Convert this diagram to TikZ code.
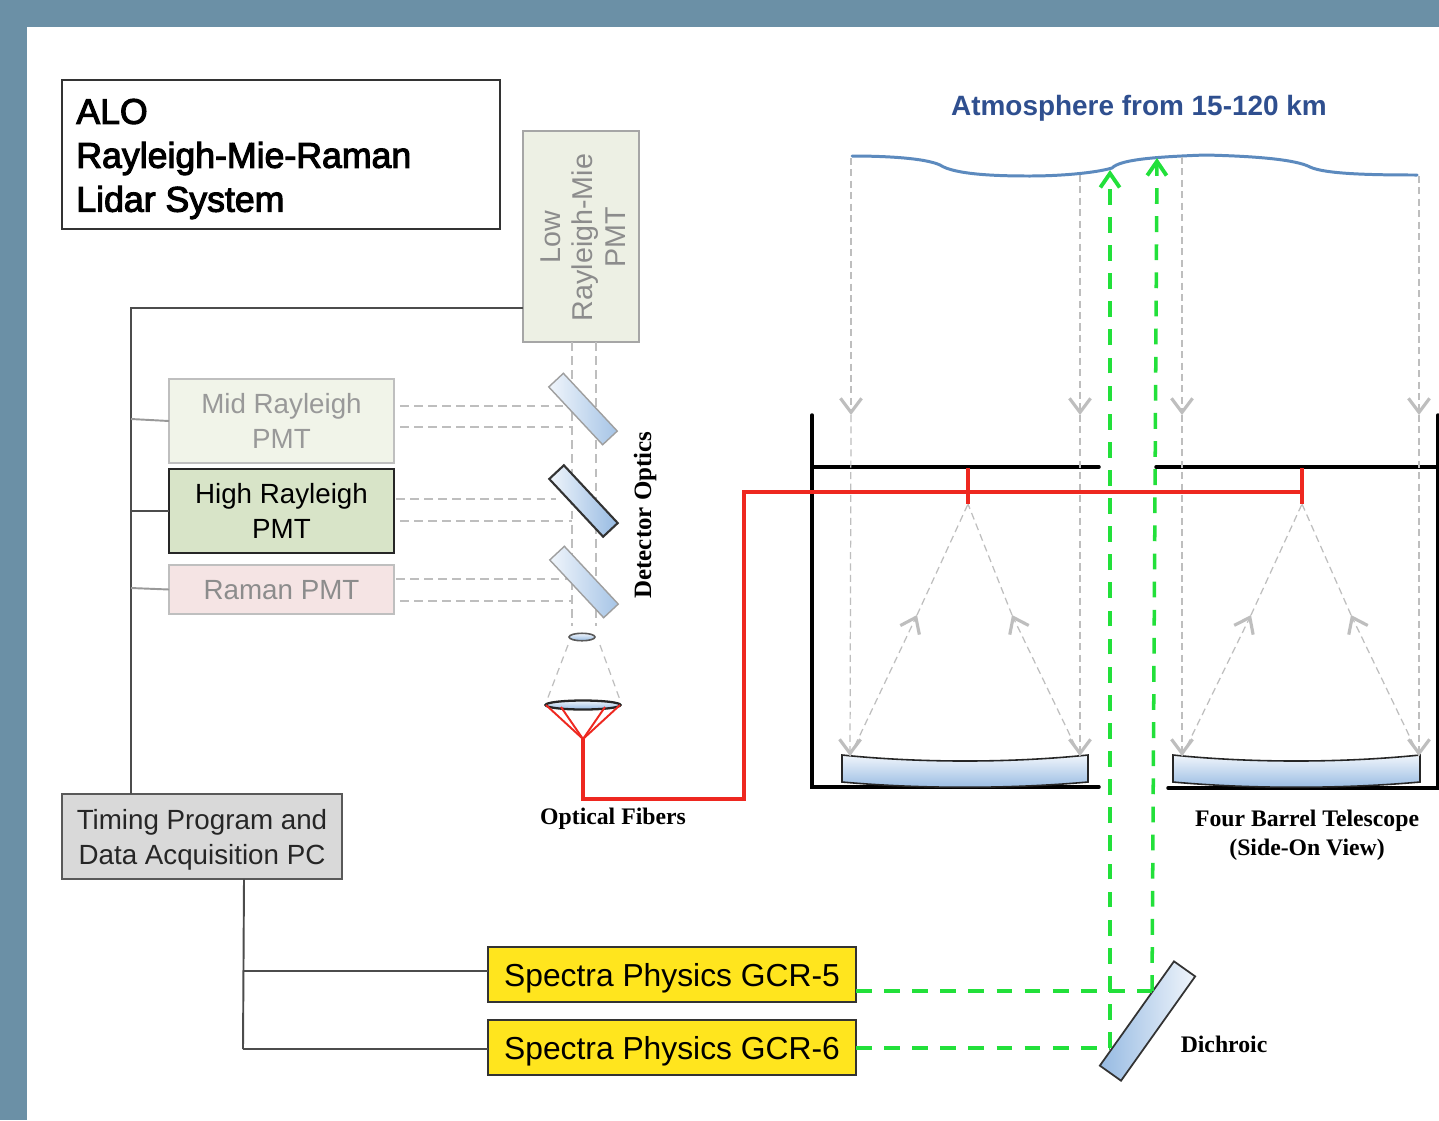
\documentclass[tikz,border=0pt]{standalone}
\usepackage{fontspec}
\setmainfont{Liberation Sans}
\newfontfamily\serifbold{Liberation Serif}
\newfontfamily\heavysans{Liberation Sans}[FakeBold=3]
\usetikzlibrary{shapes.geometric, arrows.meta, positioning, calc}
\definecolor{framebg}{RGB}{107,144,166}
\definecolor{lowbg}{RGB}{237,240,228}
\definecolor{midbg}{RGB}{241,244,233}
\definecolor{highbg}{RGB}{216,228,200}
\definecolor{ramanbg}{RGB}{245,228,228}
\definecolor{timebg}{RGB}{217,217,217}
\definecolor{laserbg}{RGB}{255,229,30}
\definecolor{beamgray}{RGB}{190,190,190}
\definecolor{lasergreen}{RGB}{34,224,58}
\definecolor{fiberred}{RGB}{238,40,32}
\definecolor{skyblue}{RGB}{92,138,190}
\definecolor{skytext}{RGB}{47,79,143}
\definecolor{glassblue}{RGB}{150,186,226}
\definecolor{glasslight}{RGB}{240,245,251}
\tikzset{
  pmtbox/.style={draw, rectangle, line width=0.8pt, inner sep=0pt, outer sep=0pt, align=center, font=\fontsize{15.8}{20}\selectfont},
  laserbox/.style={pmtbox, draw=black!80, fill=laserbg, minimum width=7.36cm, minimum height=1.1cm, text depth=-3pt, font=\fontsize{18.1}{22}\selectfont},
  caption/.style={font=\serifbold\bfseries\fontsize{13.5}{16.5}\selectfont, align=center},
  mirror/.style={draw=gray!75, line width=0.8pt, inner sep=0pt, minimum width=1.58cm, minimum height=0.4cm, left color=glasslight, right color=glassblue!85},
  wire/.style={draw=black!70, line width=1.1pt},
  sidebeam/.style={draw=beamgray, line width=0.8pt, dash pattern=on 5pt off 3pt},
  ray/.style={draw=beamgray, line width=0.7pt, dash pattern=on 4pt off 2.5pt},
  raytip/.style={ray, -{Straight Barb[length=8pt, width=12pt, line width=1.8pt]}},
  green/.style={draw=lasergreen, line width=2pt, dash pattern=on 9pt off 7pt},
  greentip/.style={green, -{Straight Barb[length=8pt, width=11pt, line width=2.2pt]}},
  barrel/.style={draw=black, line width=2pt, line cap=round},
  fiber/.style={draw=fiberred, line width=1.9pt}
}
\begin{document}
\begin{tikzpicture}[x=0.02cm, y=-0.02cm]
  \useasboundingbox (0,0) rectangle (1439,1120);
  % Frame
  \fill[framebg] (0,0) rectangle (1439,1120);
  \fill[white] (27,27) rectangle (1439,1120);

  % Boxes
  \node[draw=black!80, rectangle, line width=1pt, inner sep=0pt, minimum width=8.76cm, minimum height=2.98cm] (title) at (281,154.5) {};
  \node[anchor=west, align=left, inner sep=0pt, font=\heavysans\fontsize{20.3}{25}\selectfont] (titletext) at (76,159) {ALO\\Rayleigh-Mie-Raman\\Lidar System};
  \node[pmtbox, draw=black!35, fill=lowbg, text=black!45, minimum width=2.32cm, minimum height=4.22cm] (low) at (581,236.5) {};
  \node[rotate=90, align=center, text=black!45, font=\fontsize{16.3}{18.7}\selectfont] (lowtext) at (583,237.5) {Low\\Rayleigh-Mie\\PMT};
  \node[pmtbox, draw=black!25, fill=midbg, text=black!40, minimum width=4.5cm, minimum height=1.68cm, text depth=-5pt] (mid) at (281.5,421) {Mid Rayleigh\\PMT};
  \node[pmtbox, draw=black!85, fill=highbg, minimum width=4.5cm, minimum height=1.68cm, text depth=-5pt] (high) at (281.5,511) {High Rayleigh\\PMT};
  \node[pmtbox, draw=black!25, fill=ramanbg, text=black!45, minimum width=4.5cm, minimum height=0.98cm, text depth=-5pt] (raman) at (281.5,589.5) {Raman PMT};
  \node[pmtbox, draw=black!65, fill=timebg, text=black!85, minimum width=5.6cm, minimum height=1.7cm, text depth=-2.5pt] (timing) at (202,836.5) {Timing Program and\\Data Acquisition PC};
  \node[laserbox] (gcrfive) at (672,974.5) {Spectra Physics GCR-5};
  \node[laserbox] (gcrsix) at (672,1047.5) {Spectra Physics GCR-6};

  % Labels
  \node[text=skytext, font=\fontsize{15.9}{18}\selectfont\bfseries] (atmo) at (1139,108) {Atmosphere from 15-120 km};
  \node[caption] (fibers) at (613,819) {Optical Fibers};
  \node[caption] (scope) at (1307,835) {Four Barrel Telescope\\(Side-On View)};
  \node[caption] (dichlabel) at (1224,1044) {Dichroic};
  \node[caption, rotate=90, font=\serifbold\bfseries\fontsize{14.2}{16.5}\selectfont] (optics) at (645,515) {Detector Optics};

  % Wires to the PC
  \coordinate (bustop) at (131,308);
  \coordinate (tapmid) at (131,419);
  \coordinate (tapraman) at (131,588);
  \coordinate (jointop) at (244,971);
  \coordinate (joinlow) at (243,1049);
  \draw[wire] (low.west |- bustop) -- (bustop) -- (timing.north -| bustop);
  \draw[wire, draw=black!40] (tapmid) -- (mid.west);
  \draw[wire, line width=1.3pt] (bustop |- high) -- (high.west);
  \draw[wire, draw=black!40] (tapraman) -- (raman.west);
  \draw[wire] (timing.south -| jointop) -- (joinlow);
  \draw[wire] (jointop) -- (gcrfive.west |- jointop);
  \draw[wire] (joinlow) -- (gcrsix.west |- joinlow);

  % Detector beams
  \coordinate (beamL) at (572,342);
  \coordinate (beamR) at (596,342);
  \coordinate (beamLend) at (572,626);
  \coordinate (beamRend) at (596,626);
  \draw[sidebeam] (beamL) -- (beamLend);
  \draw[sidebeam] (beamR) -- (beamRend);
  \draw[sidebeam] (400,406) -- (596,406);
  \draw[sidebeam] (400,427) -- (572,427);
  \draw[sidebeam] (396,499) -- (556,499);
  \draw[sidebeam] (400,521) -- (572,521);
  \draw[sidebeam] (396,579) -- (592,579);
  \draw[sidebeam] (400,601) -- (572,601);

  % Mirrors
  \node[mirror, rotate=-47] (mirrorA) at (583,409) {};
  \node[mirror, rotate=-47, draw=black!80, line width=1.2pt, right color=glassblue] (mirrorB) at (583.5,501) {};
  \node[mirror, rotate=-47] (mirrorC) at (584,582) {};
  \node[mirror, rotate=54.6, draw=black!80, line width=1pt, minimum width=2.56cm, minimum height=0.52cm, left color=glassblue, right color=glasslight] (dichroic) at (1147.5,1021) {};

  % Lenses and fibers
  \draw[ray, dash pattern=on 4pt off 3pt] (568,645) -- (547,700);
  \draw[ray, dash pattern=on 4pt off 3pt] (600,645) -- (620,700);
  \node[draw=black!65, ellipse, line width=0.9pt, inner sep=0pt, minimum width=0.52cm, minimum height=0.15cm, top color=glasslight, bottom color=glassblue] (smalllens) at (582,637) {};
  \node[draw=black!85, ellipse, line width=1.3pt, inner sep=0pt, minimum width=1.5cm, minimum height=0.18cm, top color=glasslight, bottom color=glassblue] (biglens) at (583,705) {};
  \coordinate (knot) at (583,739);
  \coordinate (corner) at (583,799);
  \coordinate (riser) at (744,799);
  \coordinate (feedA) at (968,492);
  \coordinate (feedB) at (1302,492);
  \draw[fiber, line width=1.1pt] (knot) -- (546,705);
  \draw[fiber, line width=1.1pt] (knot) -- (561,707);
  \draw[fiber, line width=1.1pt] (knot) -- (605,707);
  \draw[fiber, line width=1.1pt] (knot) -- (620,705);

  % Telescope
  \draw[barrel] (812,415) -- (812,787) -- (1099,787);
  \draw[barrel] (812,467) -- (1099,467);
  \draw[barrel] (1438,415) -- (1438,788) -- (1168,788);
  \draw[barrel] (1156,467) -- (1439,467);
  \draw[draw=black!85, line width=0.9pt, top color=glasslight, bottom color=glassblue]
    (842,755) .. controls (920,763) and (1010,763) .. (1088,755)
    -- (1088,782) .. controls (1010,789) and (920,789) .. (842,782) -- cycle;
  \draw[draw=black!85, line width=0.9pt, top color=glasslight, bottom color=glassblue]
    (1173,755) .. controls (1250,763) and (1342,763) .. (1420,755)
    -- (1420,782) .. controls (1342,789) and (1250,789) .. (1173,782) -- cycle;

  % Sky
  \draw[draw=skyblue, line width=1.7pt, line cap=round] (852,156)
    .. controls (885,156) and (925,158) .. (940,165)
    .. controls (955,175) and (1000,176) .. (1030,176)
    .. controls (1060,176) and (1095,173) .. (1112,168)
    .. controls (1120,160) and (1150,157) .. (1205,155)
    .. controls (1250,156) and (1295,159) .. (1310,167)
    .. controls (1325,174) and (1370,175) .. (1417,175);

  % Light from the sky
  \coordinate (skyA) at (851,158);
  \coordinate (skyB) at (1080,175);
  \coordinate (skyC) at (1182,157);
  \coordinate (skyD) at (1419,176);
  \coordinate (midA) at (851,415);
  \coordinate (midB) at (1080,415);
  \coordinate (midC) at (1182,415);
  \coordinate (midD) at (1419,415);
  \coordinate (dishA) at (850,756);
  \coordinate (dishB) at (1080,756);
  \coordinate (dishC) at (1182,756);
  \coordinate (dishD) at (1419,756);
  \draw[raytip] (skyA) -- (midA);
  \draw[raytip] (skyB) -- (midB);
  \draw[raytip] (skyC) -- (midC);
  \draw[raytip] (skyD) -- (midD);
  \draw[raytip] (midA) -- (dishA);
  \draw[raytip] (midB) -- (dishB);
  \draw[raytip] (midC) -- (dishC);
  \draw[raytip] (midD) -- (dishD);

  % Light to the focus
  \coordinate (focusA) at (968,504);
  \coordinate (focusB) at (1302,504);
  \coordinate (upA) at (917,615);
  \coordinate (upB) at (1012,615);
  \coordinate (upC) at (1251,615);
  \coordinate (upD) at (1351,615);
  \draw[raytip] (dishA) -- (upA);
  \draw[ray] (upA) -- (focusA);
  \draw[raytip] (dishB) -- (upB);
  \draw[ray] (upB) -- (focusA);
  \draw[raytip] (dishC) -- (upC);
  \draw[ray] (upC) -- (focusB);
  \draw[raytip] (dishD) -- (upD);
  \draw[ray] (upD) -- (focusB);

  % Red fiber
  \draw[fiber] (knot) -- (corner) -- (riser) -- (riser |- feedA) -- (feedB);
  \draw[fiber] (968,468) -- (focusA);
  \draw[fiber] (1302,468) -- (focusB);

  % Laser beams
  \coordinate (outA) at (1152,991);
  \coordinate (outB) at (1110,1048);
  \coordinate (topA) at (1157,158);
  \coordinate (topB) at (1110,170);
  \draw[green] (gcrfive.east |- outA) -- (outA);
  \draw[green] (gcrsix.east |- outB) -- (outB);
  \draw[greentip] (outB) -- (topB);
  \draw[greentip] (outA) -- (topA);
\end{tikzpicture}
\end{document}
